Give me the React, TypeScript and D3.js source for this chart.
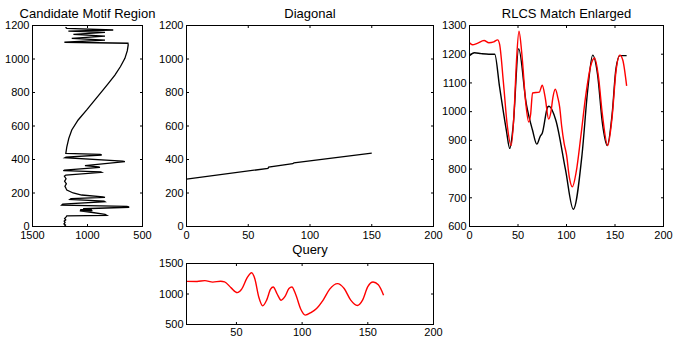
import React from 'react';
import * as d3 from 'd3';

// Candidate motif region: [index, value] (plotted with value on a reversed x axis)
const candidateIdx = [
  0, 8, 16, 24, 32, 40, 48, 56, 63, 67, 72, 88, 93, 95, 97, 99, 101, 103, 106, 115, 120, 128, 133,
  148, 152, 162, 166, 174, 177, 188, 200, 218, 228, 240, 255, 270, 285, 300, 307, 323, 326, 333,
  336, 353, 356, 363, 387, 390, 411, 414, 427, 430, 437, 476, 526, 576, 636, 696, 750, 805, 855,
  904, 955, 1004, 1050, 1084, 1094, 1100, 1113, 1123, 1137, 1147, 1159, 1167, 1173, 1183, 1190,
];
const candidateVal = [
  1210, 1200, 1214, 1204, 1212, 1198, 1208, 1196, 1188, 826, 840, 1000, 1070, 955, 1068, 960, 1065,
  975, 1040, 621, 640, 1234, 1225, 841, 850, 1159, 1150, 841, 860, 1053, 1130, 1188, 1196, 1205,
  1192, 1208, 1195, 1210, 1197, 871, 880, 1219, 1210, 887, 900, 1023, 660, 680, 1204, 1195, 871, 885,
  1197, 1188, 1170, 1143, 1085, 1007, 940, 871, 810, 751, 700, 660, 638, 630, 632, 1210, 841, 1143,
  841, 1128, 841, 1174, 766, 1188, 1200,
];

// Diagonal
const diagX = [0, 66, 66.5, 86, 87, 150];
const diagY = [283, 347, 354, 375, 380, 438];

// RLCS match enlarged
const matchBlackX = [
  0, 5, 12, 20, 26, 31, 38, 41.5, 45, 50.7, 58.5, 65, 69.4, 73, 75, 80.6, 82, 89, 99, 107, 116, 122,
  127, 132, 137, 142, 147, 151, 155, 162,
];
const matchBlackY = [
  1195, 1205, 1202, 1200, 1200, 1086, 935, 872, 950, 1219, 1028, 935, 887, 915, 925, 1016, 1019, 970,
  797, 660, 850, 1080, 1197, 1130, 960, 882, 990, 1150, 1195, 1195,
];
const matchRedX = [
  0, 3, 8, 15, 20, 25, 29, 31, 35, 39, 43, 46, 48.5, 51, 54, 58, 61, 63, 65, 72, 75, 78, 81.6, 84, 86,
  88.5, 91, 93, 95, 97.6, 100, 103, 106, 110, 115, 120, 125, 129, 133, 137, 142.5, 147, 151, 155, 158,
  162,
];
const matchRedY = [
  1240, 1233, 1238, 1248, 1240, 1243, 1250, 1235, 1100, 950, 882, 1000, 1180, 1280, 1200, 1030, 964,
  990, 1065, 1068, 1092, 1050, 974, 1000, 1050, 1078, 1050, 1015, 950, 889, 850, 770, 738, 790, 920,
  1060, 1160, 1187, 1120, 990, 882, 980, 1140, 1197, 1180, 1090,
];

// Query
const queryX = [
  12, 20, 26, 32, 38, 41, 46, 50.6, 54, 58, 61.6, 64, 67, 70, 73, 76, 78, 81, 84, 87, 90, 92.2, 95, 99,
  102.3, 107, 111, 116, 121, 127, 132, 137, 142, 146, 150, 154, 158, 162,
];
const queryY = [
  1207, 1205, 1220, 1195, 1210, 1200, 1100, 1023, 1080, 1260, 1349, 1250, 950, 806, 900, 1080, 1115,
  1000, 898, 960, 1090, 1115, 1000, 750, 654, 700, 763, 900, 1080, 1170, 1090, 900, 812, 900, 1120,
  1196, 1150, 980,
];

const W = 673;
const H = 337;
const FONT = 'Liberation Sans, Arial, Helvetica, sans-serif';
const TICK = 2.5;

type PanelProps = {
  x: d3.ScaleLinear<number, number>;
  y: d3.ScaleLinear<number, number>;
  xTicks: number[];
  yTicks: number[];
  title: string;
  titleY: number;
  xLabelY?: number;
  children?: React.ReactNode;
};

const Panel = ({ x, y, xTicks, yTicks, title, titleY, xLabelY, children }: PanelProps) => {
  const [x0, x1] = d3.extent(x.range()) as [number, number];
  const [y0, y1] = d3.extent(y.range()) as [number, number];
  const labelY = xLabelY ?? y1 + 12.5;
  return (
    <g>
      {children}
      <rect x={x0} y={y0} width={x1 - x0} height={y1 - y0} fill="none" stroke="#000" strokeWidth={1} />
      {xTicks.map((t) => (
        <g key={'x' + t}>
          <line x1={x(t)} x2={x(t)} y1={y1} y2={y1 - TICK} stroke="#000" />
          <line x1={x(t)} x2={x(t)} y1={y0} y2={y0 + TICK} stroke="#000" />
          <text x={x(t)} y={labelY} textAnchor="middle" fontSize={11}>
            {t}
          </text>
        </g>
      ))}
      {yTicks.map((t) => (
        <g key={'y' + t}>
          <line x1={x0} x2={x0 + TICK} y1={y(t)} y2={y(t)} stroke="#000" />
          <line x1={x1} x2={x1 - TICK} y1={y(t)} y2={y(t)} stroke="#000" />
          <text x={x0 - 3} y={y(t)} dy="0.35em" textAnchor="end" fontSize={11}>
            {t}
          </text>
        </g>
      ))}
      <text x={(x0 + x1) / 2} y={titleY} textAnchor="middle" fontSize={13}>
        {title}
      </text>
    </g>
  );
};

const App = () => {
  const top = 25.5;
  const bottom = 226.5;

  // Candidate Motif Region
  const cx = d3.scaleLinear().domain([1500, 500]).range([32.5, 142.5]);
  const cy = d3.scaleLinear().domain([0, 1200]).range([bottom, top]);
  const candLine = d3
    .line<number>()
    .x((_, i) => cx(candidateVal[i]))
    .y((d) => cy(d));

  // Diagonal
  const dx = d3.scaleLinear().domain([0, 200]).range([186.5, 433.5]);
  const dy = d3.scaleLinear().domain([0, 1200]).range([bottom, top]);
  const diagLine = d3
    .line<number>()
    .x((d) => dx(d))
    .y((_, i) => dy(diagY[i]));

  // RLCS Match Enlarged
  const mx = d3.scaleLinear().domain([0, 200]).range([469.5, 663.5]);
  const my = d3.scaleLinear().domain([600, 1300]).range([bottom, top]);
  const blackLine = d3
    .line<number>()
    .x((d) => mx(d))
    .y((_, i) => my(matchBlackY[i]))
    .curve(d3.curveMonotoneX);
  const redLine = d3
    .line<number>()
    .x((d) => mx(d))
    .y((_, i) => my(matchRedY[i]))
    .curve(d3.curveMonotoneX);

  // Query
  const qx = d3.scaleLinear().domain([12, 200]).range([186.5, 433.5]);
  const qy = d3.scaleLinear().domain([500, 1500]).range([324.5, 263.5]);
  const queryLine = d3
    .line<number>()
    .x((d) => qx(d))
    .y((_, i) => qy(queryY[i]))
    .curve(d3.curveMonotoneX);

  return (
    <svg
      width={W}
      height={H}
      style={{ position: 'absolute', left: 0, top: 0, background: '#fff' }}
      fontFamily={FONT}
      fill="#000"
    >
      <Panel x={cx} y={cy} xTicks={[1500, 1000, 500]} yTicks={d3.range(0, 1201, 200)} title="Candidate Motif Region" titleY={17.5}>
        <path d={candLine(candidateIdx) ?? ''} fill="none" stroke="#000" strokeWidth={1.3} strokeLinejoin="miter" />
      </Panel>
      <Panel x={dx} y={dy} xTicks={d3.range(0, 201, 50)} yTicks={d3.range(0, 1201, 200)} title="Diagonal" titleY={17.5}>
        <path d={diagLine(diagX) ?? ''} fill="none" stroke="#000" strokeWidth={1.3} />
      </Panel>
      <Panel x={mx} y={my} xTicks={d3.range(0, 201, 50)} yTicks={d3.range(600, 1301, 100)} title="RLCS Match Enlarged" titleY={17.5}>
        <path d={blackLine(matchBlackX) ?? ''} fill="none" stroke="#000" strokeWidth={1.4} />
        <path d={redLine(matchRedX) ?? ''} fill="none" stroke="#f00" strokeWidth={1.4} />
      </Panel>
      <Panel x={qx} y={qy} xTicks={[50, 100, 150, 200]} yTicks={[500, 1000, 1500]} title="Query" titleY={254} xLabelY={335.5}>
        <path d={queryLine(queryX) ?? ''} fill="none" stroke="#f00" strokeWidth={1.4} />
      </Panel>
    </svg>
  );
};

export default App;
